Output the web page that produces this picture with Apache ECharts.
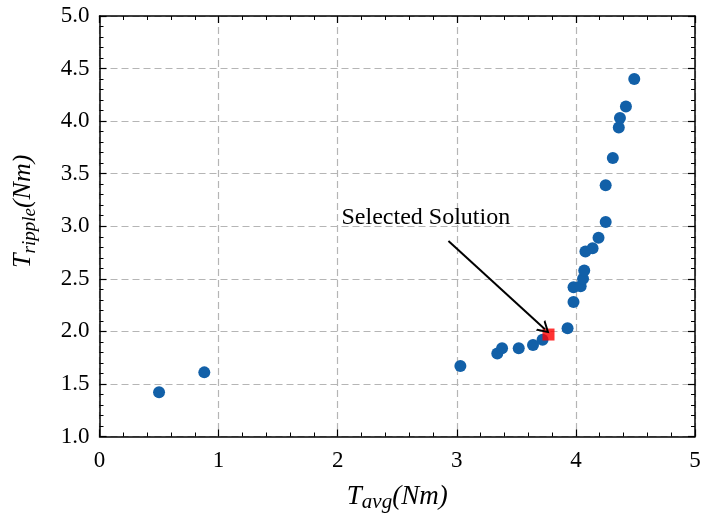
<!DOCTYPE html>
<html><head><meta charset="utf-8">
<script src="https://cdn.jsdelivr.net/npm/echarts@6/dist/echarts.min.js"></script>
<style>html,body{margin:0;padding:0;background:#fff}#c{width:704px;height:518px}</style>
</head><body><div id="c"></div>
<script>
const tavg    = [0.50, 0.88, 3.03, 3.34, 3.38, 3.52, 3.64, 3.72, 3.93, 3.98, 3.98, 4.04, 4.06, 4.07, 4.08, 4.14, 4.19, 4.25, 4.25, 4.31, 4.36, 4.37, 4.42, 4.49];
const tripple = [1.42, 1.61, 1.67, 1.79, 1.84, 1.84, 1.87, 1.92, 2.03, 2.28, 2.42, 2.43, 2.50, 2.58, 2.76, 2.79, 2.89, 3.04, 3.39, 3.65, 3.94, 4.03, 4.14, 4.40];
const selected = [3.77, 1.97];
const arrowFrom = [2.93, 2.86];
const arrowTo = [3.74, 2.02];
const labelAt = [2.74, 3.08];
const labelText = 'Selected Solution';

const FONT = '"Liberation Serif", "DejaVu Serif", serif';
const chart = echarts.init(document.getElementById('c'));
function xAx(pos, show){
  return {type:'value', min:0, max:5, interval:1, position:pos,
    axisLine:{show:true, onZero:false, lineStyle:{color:'#000', width:1.5}},
    axisTick:{show:true, inside:true, length:7, lineStyle:{color:'#000', width:1.2}},
    minorTick:{show:true, splitNumber:5, length:4, lineStyle:{color:'#000', width:1}},
    splitLine:{show:show, lineStyle:{color:'#b5b5b5', type:[7,4], width:1.2}},
    axisLabel:{show:show, color:'#000', fontFamily:FONT, fontSize:23, margin:13},
    name: show ? '{i|T}{s|avg}{i|(Nm)}' : '', nameLocation:'middle', nameGap:44,
    nameTextStyle:{rich:{
      i:{fontFamily:FONT, fontStyle:'italic', fontSize:27, color:'#000', lineHeight:32},
      s:{fontFamily:FONT, fontStyle:'italic', fontSize:21, color:'#000', lineHeight:32, padding:[12,0,0,0]}}}
  };
}
function yAx(pos, show){
  return {type:'value', min:1, max:5, interval:0.5, position:pos,
    axisLine:{show:true, onZero:false, lineStyle:{color:'#000', width:1.5}},
    axisTick:{show:true, inside:true, length:7, lineStyle:{color:'#000', width:1.2}},
    minorTick:{show:true, splitNumber:5, length:4, lineStyle:{color:'#000', width:1}},
    splitLine:{show:show, lineStyle:{color:'#b5b5b5', type:[7,4], width:1.2}},
    axisLabel:{show:show, color:'#000', fontFamily:FONT, fontSize:23, margin:10, formatter:v=>v.toFixed(1)},
    name: show ? '{i|T}{s|ripple}{i|(Nm)}' : '', nameLocation:'middle', nameGap:60, nameRotate:90,
    nameTextStyle:{padding:[0,0,0,30], rich:{
      i:{fontFamily:FONT, fontStyle:'italic', fontSize:26, color:'#000', lineHeight:32},
      s:{fontFamily:FONT, fontStyle:'italic', fontSize:19, color:'#000', lineHeight:32, padding:[12,0,0,0]}}}
  };
}
const pts = tavg.map((x,i)=>[x, tripple[i]]);
chart.setOption({
  animation:false,
  backgroundColor:'#fff',
  grid:{left:98, right:9, top:16, bottom:80},
  xAxis:[xAx('bottom', true), xAx('top', false)],
  yAxis:[yAx('left', true), yAx('right', false)],
  series:[
    {type:'scatter', xAxisIndex:0, yAxisIndex:0, data:pts, symbol:'circle', symbolSize:12,
     itemStyle:{color:'#1260A8', opacity:1}, z:3,
     markLine:{silent:true, symbol:['none','path://M5,0 L10,10 L8.4,10 L5,3.2 L1.6,10 L0,10 Z'], symbolSize:[14,12],
       lineStyle:{color:'#000', width:2, type:'solid'}, itemStyle:{color:'#000'}, label:{show:false},
       data:[[{coord:arrowFrom}, {coord:arrowTo}]]},
     markPoint:{silent:true, symbol:'circle', symbolSize:0,
       label:{show:true, formatter:labelText, color:'#000', fontFamily:FONT, fontSize:24, position:'inside'},
       data:[{coord:labelAt}]}
    },
    {type:'scatter', xAxisIndex:0, yAxisIndex:0, data:[selected], symbol:'rect', symbolSize:12,
     itemStyle:{color:'#ff0000'}, z:4}
  ]
});
</script></body></html>
